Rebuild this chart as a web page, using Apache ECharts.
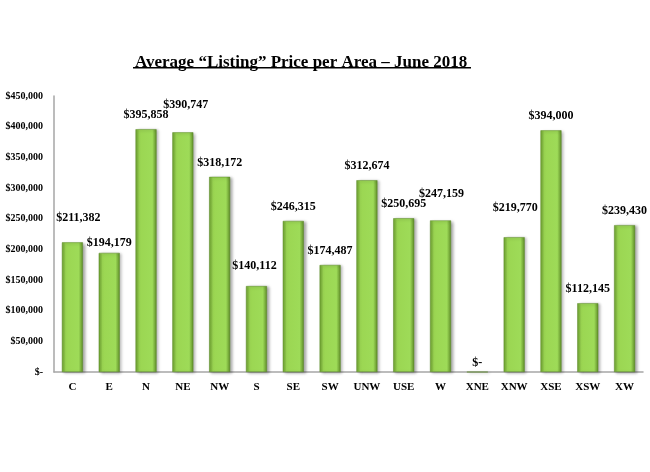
<!DOCTYPE html>
<html>
<head>
<meta charset="utf-8">
<script src="https://cdn.jsdelivr.net/npm/echarts@6/dist/echarts.min.js"></script>
<style>
  html, body { margin: 0; padding: 0; background: #fff; }
  #chart { width: 650px; height: 472px; }
</style>
</head>
<body>
<div id="chart"></div>
<script>
// 区域名称
var areas = ['C', 'E', 'N', 'NE', 'NW', 'S', 'SE', 'SW', 'UNW', 'USE', 'W', 'XNE', 'XNW', 'XSE', 'XSW', 'XW']
// 平均挂牌价格
var prices = [211382, 194179, 395858, 390747, 318172, 140112, 246315, 174487, 312674, 250695, 247159, 0, 219770, 394000, 112145, 239430]
// 标签在原图里被手动挪过位置的几个柱子
var labelShift = { C: [6, -10], E: [0, 4], NE: [3, -13], S: [-2, -6], W: [1, -13], XNE: [0, 5], XNW: [1, -15] }

function money(v) {
  if (!v) return '$-'
  return '$' + v.toLocaleString('en-US')
}

var serif = '"Liberation Serif", "DejaVu Serif", serif'

var barColor = new echarts.graphic.LinearGradient(0, 0, 1, 0, [
  { offset: 0, color: '#6c9f30' },
  { offset: 0.18, color: '#9bd652' },
  { offset: 0.8, color: '#9edb58' },
  { offset: 1, color: '#5e8c28' }
])

var seriesData = prices.map(function(v, i) {
  var item = { value: v }
  var sh = labelShift[areas[i]]
  if (sh) item.label = { offset: sh }
  return item
})

var myChart = echarts.init(document.getElementById('chart'))
var option = {
  animation: false,
  title: {
    text: 'Average \u201cListing\u201d Price per Area \u2013 June 2018',
    left: 130,
    top: 49,
    textStyle: { fontFamily: serif, fontWeight: 'bold', fontSize: 17, color: '#000' }
  },
  graphic: [
    // 标题下划线
    { type: 'rect', left: 133, top: 67, shape: { width: 338, height: 1.5 }, style: { fill: '#000' } }
  ],
  grid: { left: 54, right: 7, top: 96, bottom: 100 },
  xAxis: {
    type: 'category',
    data: areas,
    axisTick: { show: false },
    axisLine: { lineStyle: { color: '#a6a6a6', width: 1.5 } },
    axisLabel: { margin: 10, fontFamily: serif, fontWeight: 'bold', fontSize: 11, color: '#000', interval: 0 }
  },
  yAxis: {
    type: 'value',
    min: 0,
    max: 450000,
    interval: 50000,
    splitLine: { show: false },
    axisTick: { show: false },
    axisLine: { show: true, lineStyle: { color: '#a6a6a6', width: 1.5 } },
    axisLabel: { margin: 11, fontFamily: serif, fontWeight: 'bold', fontSize: 10, color: '#000', formatter: money }
  },
  series: [
    {
      type: 'bar',
      data: seriesData,
      barWidth: 21,
      itemStyle: {
        color: barColor,
        borderColor: '#5a8a26',
        borderWidth: 0.5,
        shadowColor: 'rgba(0,0,0,0.35)',
        shadowBlur: 3,
        shadowOffsetX: 2,
        shadowOffsetY: 1
      },
      label: {
        show: true,
        position: 'top',
        distance: 8,
        fontFamily: serif,
        fontWeight: 'bold',
        fontSize: 12,
        color: '#000',
        formatter: function(p) { return money(p.value) }
      }
    }
  ]
}
myChart.setOption(option)
</script>
</body>
</html>
